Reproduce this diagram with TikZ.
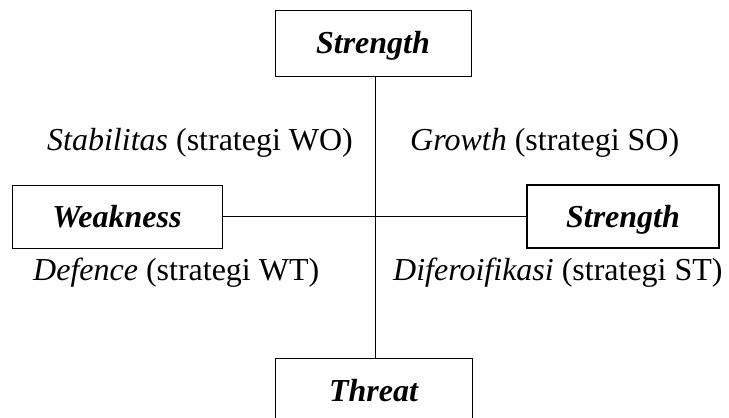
\documentclass[tikz,border=0pt]{standalone}
\usepackage{fontspec}
\setmainfont{Liberation Serif}
\begin{document}
\begin{tikzpicture}[x=1pt,y=-1pt,
  boxnode/.style={draw, line width=1pt, inner sep=0pt, text height=21pt, text depth=0pt, font=\fontsize{32}{38}\selectfont\bfseries\itshape},
  lbl/.style={anchor=base west, inner sep=0pt, font=\fontsize{32}{38}\selectfont}]
\useasboundingbox (0,0) rectangle (729,418);
\node[boxnode, minimum width=196pt, minimum height=66pt] (top) at (373,43) {Strength};
\node[boxnode, minimum width=210pt, minimum height=63pt] (weak) at (117,216.5) {Weakness};
\node[boxnode, line width=1.7pt, minimum width=192pt, minimum height=63pt] (str) at (623,216.5) {Strength};
\node[boxnode, minimum width=197pt, minimum height=66pt] (threat) at (373.5,391) {Threat};
\coordinate (vx) at (375.5,0);
\draw[line width=1.6pt] (top.south -| vx) -- (threat.north -| vx);
\draw[line width=1.6pt] (weak.east) -- (str.west);
\node[lbl] (wo) at (47,150) {\textit{Stabilitas} (strategi WO)};
\node[lbl] (so) at (410,150) {\textit{Growth} (strategi SO)};
\node[lbl] (wt) at (33,280) {\textit{Defence} (strategi WT)};
\node[lbl] (st) at (393,280) {\textit{Diferoifikasi} (strategi ST)};
\end{tikzpicture}
\end{document}
